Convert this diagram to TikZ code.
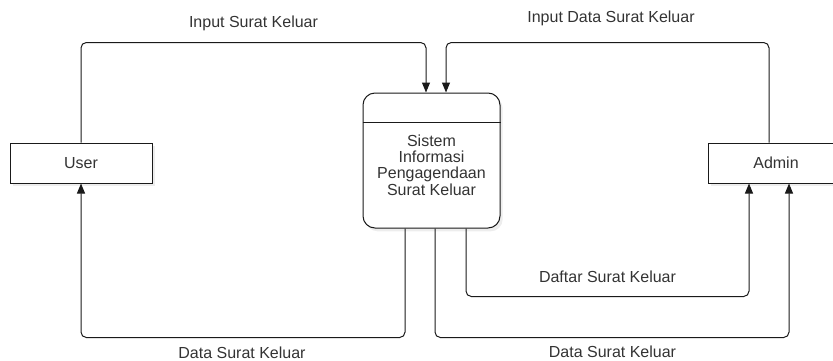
\documentclass[tikz,border=0pt]{standalone}
\usepackage{fontspec}
\setmainfont{Liberation Sans}
\usetikzlibrary{arrows.meta,calc,shadows}
\definecolor{txt}{HTML}{333333}
\definecolor{ln}{HTML}{1A1A1A}
\begin{document}
\begin{tikzpicture}[x=0.75pt,y=-0.75pt,
  every node/.style={font=\fontsize{12pt}{12pt}\selectfont, text=txt},
  boxshadow/.style={general shadow={fill=black!7, shadow xshift=2pt, shadow yshift=-2.5pt}},
  entity/.style={draw=ln, line width=0.75pt, fill=white, boxshadow, minimum height=30pt, inner sep=0pt},
  process/.style={draw=ln, line width=0.75pt, fill=white, boxshadow, rounded corners=9pt,
    minimum width=102.75pt, minimum height=101.25pt, inner sep=0pt},
  flow/.style={draw=ln, line width=0.75pt, rounded corners=4pt, -{Triangle[length=7.5pt,width=6pt]}},
  lbl/.style={inner sep=0pt, anchor=center}
]
\useasboundingbox (0,0) rectangle (833,361);

% nodes
\node[entity, minimum width=106.5pt] (user) at (81,163) {User};
\node[entity, minimum width=102pt] (admin) at (776,163) {Admin};
\node[process] (proc) at (431.5,160.5) {};
\draw[ln, line width=0.75pt] (proc.west |- 0,122) -- (proc.east |- 0,122);
\node[align=center, inner sep=0pt, font=\fontsize{12pt}{12.2pt}\selectfont] (ptext) at (431.5,165)
  {Sistem\\Informasi\\Pengagendaan\\Surat Keluar};

% input flows
\draw[flow] (user.north) |- ($(proc.north)+(-5.5,-50)$) -- ($(proc.north)+(-5.5,0)$);
\draw[flow] ($(admin.north)+(-7,0)$) |- ($(proc.north)+(14.5,-50)$) -- ($(proc.north)+(14.5,0)$);

% output flows
\draw[flow] ($(proc.south)+(-26.5,0)$) -- ++(0,109) -| (user.south);
\draw[flow] ($(proc.south)+(34.5,0)$) -- ++(0,68) -| ($(admin.south)+(-27,0)$);
\draw[flow] ($(proc.south)+(3.5,0)$) -- ++(0,109) -| ($(admin.south)+(13,0)$);

% labels
\node[lbl] (l1) at (253.5,23) {Input Surat Keluar};
\node[lbl] (l2) at (611,18) {Input Data Surat Keluar};
\node[lbl] (l3) at (607.5,277) {Daftar Surat Keluar};
\node[lbl] (l4) at (242,353) {Data Surat Keluar};
\node[lbl] (l5) at (612.5,352) {Data Surat Keluar};
\end{tikzpicture}
\end{document}
